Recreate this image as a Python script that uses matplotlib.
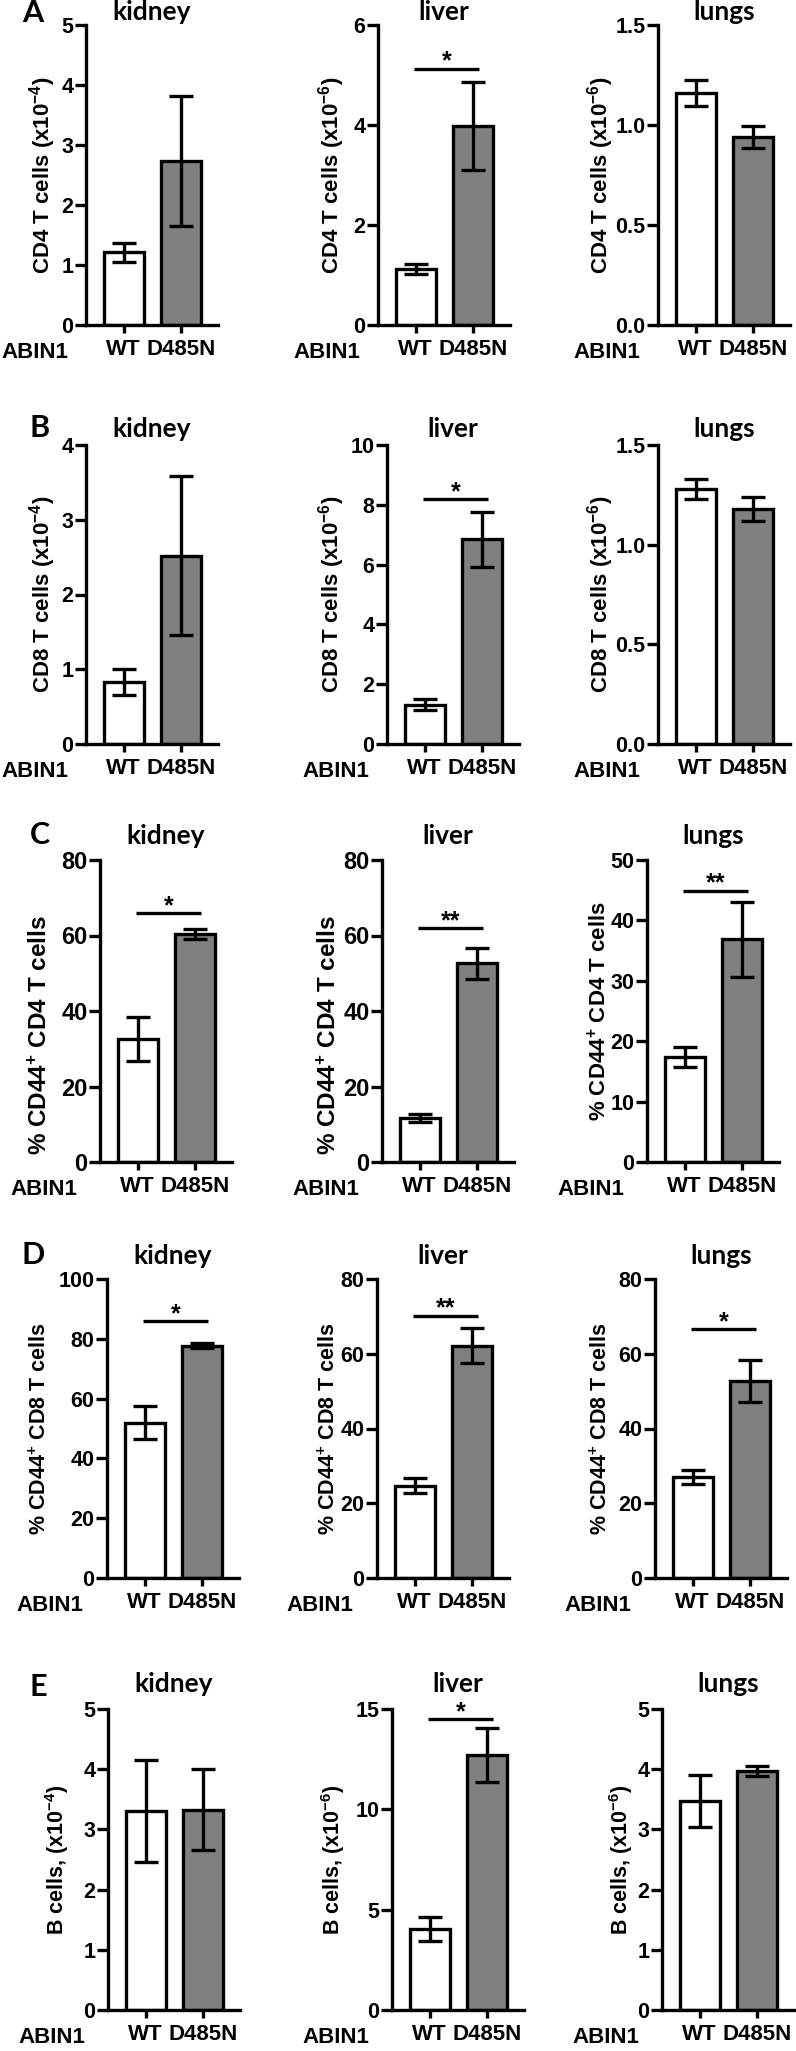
import numpy as np
import matplotlib
matplotlib.use("Agg")
import matplotlib.pyplot as plt

plt.rcParams["font.family"] = ["Liberation Sans", "DejaVu Sans"]
plt.rcParams["font.weight"] = "bold"
plt.rcParams["axes.labelweight"] = "bold"
plt.rcParams["mathtext.fontset"] = "custom"
plt.rcParams["mathtext.rm"] = "Liberation Sans:bold"
plt.rcParams["mathtext.bf"] = "Liberation Sans:bold"
plt.rcParams["mathtext.default"] = "bf"

# --- données (moyenne WT, D485N ; SEM) ---
organes = ["kidney", "liver", "lungs"]
genotypes = ["WT", "D485N"]
lettres = ["A", "B", "C", "D", "E"]

cd4_moy = [[1.21, 2.73], [1.13, 3.98], [1.16, 0.94]]
cd4_sem = [[0.16, 1.08], [0.10, 0.88], [0.065, 0.055]]
cd8_moy = [[0.83, 2.52], [1.32, 6.84], [1.28, 1.18]]
cd8_sem = [[0.18, 1.06], [0.17, 0.93], [0.05, 0.06]]
cd44_cd4_moy = [[32.6, 60.4], [11.6, 52.7], [17.4, 36.9]]
cd44_cd4_sem = [[5.8, 1.3], [1.1, 4.1], [1.6, 6.2]]
cd44_cd8_moy = [[51.9, 77.7], [24.7, 62.2], [27.0, 52.7]]
cd44_cd8_sem = [[5.5, 0.8], [2.0, 4.8], [1.8, 5.5]]
b_moy = [[3.31, 3.33], [4.05, 12.7], [3.47, 3.97]]
b_sem = [[0.85, 0.68], [0.60, 1.35], [0.43, 0.08]]

cd4_ticks = [[0, 1, 2, 3, 4, 5], [0, 2, 4, 6], [0.0, 0.5, 1.0, 1.5]]
cd8_ticks = [[0, 1, 2, 3, 4], [0, 2, 4, 6, 8, 10], [0.0, 0.5, 1.0, 1.5]]
cd44_cd4_ticks = [[0, 20, 40, 60, 80], [0, 20, 40, 60, 80], [0, 10, 20, 30, 40, 50]]
cd44_cd8_ticks = [[0, 20, 40, 60, 80, 100], [0, 20, 40, 60, 80], [0, 20, 40, 60, 80]]
b_ticks = [[0, 1, 2, 3, 4, 5], [0, 5, 10, 15], [0, 1, 2, 3, 4, 5]]

cd4_labels = ["CD4 T cells (x10$^{-4}$)", "CD4 T cells (x10$^{-6}$)", "CD4 T cells (x10$^{-6}$)"]
cd8_labels = ["CD8 T cells (x10$^{-4}$)", "CD8 T cells (x10$^{-6}$)", "CD8 T cells (x10$^{-6}$)"]
cd44_cd4_labels = ["% CD44$^{+}$ CD4 T cells"] * 3
cd44_cd8_labels = ["% CD44$^{+}$ CD8 T cells"] * 3
b_labels = ["B cells, (x10$^{-4}$)", "B cells, (x10$^{-6}$)", "B cells, (x10$^{-6}$)"]

# étoiles de significativité et hauteur de la barre horizontale
cd4_sig = [None, "*", None]
cd4_sig_y = [None, 5.13, None]
cd8_sig = [None, "*", None]
cd8_sig_y = [None, 8.2, None]
cd44_cd4_sig = ["*", "**", "**"]
cd44_cd4_sig_y = [66.0, 61.9, 44.9]
cd44_cd8_sig = ["*", "**", "*"]
cd44_cd8_sig_y = [85.8, 70.2, 66.5]
b_sig = [None, "*", None]
b_sig_y = [None, 14.5, None]

lignes = [
    (cd4_moy, cd4_sem, cd4_ticks, cd4_labels, cd4_sig, cd4_sig_y),
    (cd8_moy, cd8_sem, cd8_ticks, cd8_labels, cd8_sig, cd8_sig_y),
    (cd44_cd4_moy, cd44_cd4_sem, cd44_cd4_ticks, cd44_cd4_labels, cd44_cd4_sig, cd44_cd4_sig_y),
    (cd44_cd8_moy, cd44_cd8_sem, cd44_cd8_ticks, cd44_cd8_labels, cd44_cd8_sig, cd44_cd8_sig_y),
    (b_moy, b_sem, b_ticks, b_labels, b_sig, b_sig_y),
]

# --- mise en page (pixels) ---
W, H = 796, 2051
axe_x = [[86, 378, 658], [86, 387, 658], [100, 382, 647], [107, 377, 655], [108, 392, 662]]
haut = [25, 445, 860, 1279, 1709]
zero = [325, 744, 1162, 1578, 2010]
larg = 132
abin_dx = [85, 85, 90, 91, 90]
titre_pad = [5, 8, 16, 15, 17]
lettre_pos = [(33, 13), (40, 428), (40, 835), (33, 1255), (38, 1687)]
ylab_dx = [[-43, -46, -57], [-43, -55, -57], [-60, -53, -48], [-67, -48, -54], [-51, -59, -41]]
ylab_y = [[0.5] * 3, [0.5] * 3, [0.42, 0.42, 0.5], [0.5] * 3, [0.5] * 3]
ylab_fs = [[16] * 3, [16] * 3, [17.5, 17.5, 16], [15.5] * 3, [15.5] * 3]
tick_fs = [[15.5] * 3, [15.5] * 3, [17, 17, 15.5], [15.5] * 3, [15.5] * 3]

px = 72 / 100  # points par pixel
lw = 2.4

fig = plt.figure(figsize=(W / 100, H / 100), dpi=100)

for r, (moy, sem, ticks, labels, sig, sig_y) in enumerate(lignes):
    for c in range(3):
        x0 = axe_x[r][c]
        ax = fig.add_axes([x0 / W, 1 - zero[r] / H, larg / W, (zero[r] - haut[r]) / H])
        x = np.arange(2)
        ax.bar(x, moy[c], width=0.70, color=["white", "#808080"], edgecolor="black",
               linewidth=lw, zorder=2)
        ax.errorbar(x, moy[c], yerr=sem[c], fmt="none", ecolor="black", elinewidth=lw,
                    capsize=8.5, capthick=lw, zorder=3)
        ax.set_xlim(-0.66, 1.65)
        ax.set_ylim(0, ticks[c][-1])
        ax.set_yticks(ticks[c])
        if isinstance(ticks[c][1], float):
            ax.set_yticklabels([f"{t:.1f}" for t in ticks[c]])
        ax.set_xticks(x)
        ax.set_xticklabels(genotypes)
        for s in ["top", "right"]:
            ax.spines[s].set_visible(False)
        for s in ["left", "bottom"]:
            ax.spines[s].set_linewidth(lw)
        ax.tick_params(axis="y", length=8, width=lw, pad=1, labelsize=tick_fs[r][c])
        ax.tick_params(axis="x", length=6, width=lw, pad=4, labelsize=16)

        ax.set_ylabel(labels[c], fontsize=ylab_fs[r][c], va="center", ha="center")
        ax.yaxis.set_label_coords(ylab_dx[r][c] / larg, ylab_y[r][c])

        ax.set_title(organes[c], fontsize=19, family="Lato", fontweight="bold",
                     pad=titre_pad[r] * px)

        ax.annotate("ABIN1", xy=(0, 0), xycoords="axes fraction",
                    xytext=(-abin_dx[r] * px, -17 * px), textcoords="offset points",
                    ha="left", va="top", fontsize=16)

        if sig[c] is not None:
            ax.plot([-0.03, 1.1], [sig_y[c], sig_y[c]], color="black", lw=lw,
                    solid_capstyle="butt", clip_on=False, zorder=4)
            ax.annotate(sig[c], xy=(0.535, sig_y[c]), xytext=(0, 0),
                        textcoords="offset points", ha="center", va="baseline",
                        fontsize=18)

for lettre, (lx, ly) in zip(lettres, lettre_pos):
    fig.text(lx / W, 1 - ly / H, lettre, fontsize=22, family="Lato", fontweight="bold",
             ha="center", va="center")

fig.savefig("out.png", dpi=100)
